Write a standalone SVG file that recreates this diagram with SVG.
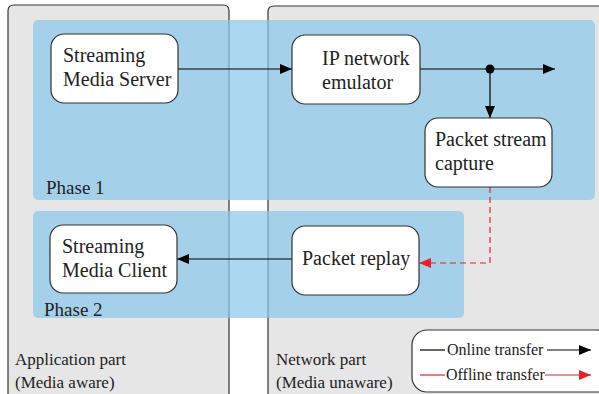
<svg xmlns="http://www.w3.org/2000/svg" width="599" height="394" viewBox="0 0 599 394">
<defs>
<marker id="ab" viewBox="0 0 12 10" refX="12" refY="5" markerWidth="12" markerHeight="10" markerUnits="userSpaceOnUse" orient="auto"><path d="M0,0 L12,5 L0,10 Z" fill="#000"/></marker>
<marker id="ar" viewBox="0 0 12 10" refX="12" refY="5" markerWidth="12" markerHeight="10" markerUnits="userSpaceOnUse" orient="auto"><path d="M0,0 L12,5 L0,10 Z" fill="#e8202a"/></marker>
</defs>
<style>
.panel{fill:#e6e6e6;stroke:#333;stroke-width:1.2}
.phase{fill:rgb(140,199,236);fill-opacity:0.72}
.node{fill:#fff;stroke:#333;stroke-width:1.2}
.nt{font-size:20px}
.ph{font-size:19px}
.pt{font-size:17px}
.lg{font-size:16px}
.bl{stroke:#000;stroke-width:1.2;fill:none}
.rd{stroke:#e8202a;stroke-width:1.2;fill:none}
</style>
<rect width="599" height="394" fill="#fff"/>
<g font-family="'Liberation Serif', Tinos, 'Times New Roman', 'DejaVu Serif', serif" fill="#222">
<g id="application-part">
<path class="panel" d="M8,400 V11 Q8,5 14,5 H223 Q229,5 229,11 V400 Z"/>
<text class="pt" x="15" y="365">Application part</text>
<text class="pt" x="15" y="388">(Media aware)</text>
</g>
<g id="network-part">
<path class="panel" d="M268,400 V12 Q268,6 274,6 H610 V400 Z"/>
<text class="pt" x="276" y="365">Network part</text>
<text class="pt" x="276" y="388">(Media unaware)</text>
</g>
<g id="phase-1">
<rect class="phase" x="33" y="20" width="562" height="180" rx="5"/>
<text class="ph" x="46" y="194">Phase 1</text>
</g>
<g id="phase-2">
<rect class="phase" x="33" y="211" width="431" height="107" rx="5"/>
<text class="ph" x="44" y="316">Phase 2</text>
</g>
<g id="connectors">
<line class="bl" x1="178" y1="69" x2="292" y2="69" marker-end="url(#ab)"/>
<line class="bl" x1="420" y1="69" x2="555" y2="69" marker-end="url(#ab)"/>
<circle cx="490" cy="69" r="4.5" fill="#000"/>
<line class="bl" x1="490" y1="69" x2="490" y2="118" marker-end="url(#ab)"/>
<path class="rd" d="M490,187 V263 H419" stroke-dasharray="6 4" marker-end="url(#ar)"/>
<line class="bl" x1="292" y1="259" x2="177" y2="259" marker-end="url(#ab)"/>
</g>
<g id="streaming-media-server">
<rect class="node" x="51" y="34" width="127" height="69" rx="13"/>
<text class="nt" x="63" y="62">Streaming</text>
<text class="nt" x="63" y="86">Media Server</text>
</g>
<g id="ip-network-emulator">
<rect class="node" x="292" y="35" width="128" height="69" rx="13"/>
<text class="nt" x="322" y="65">IP network</text>
<text class="nt" x="322" y="89">emulator</text>
</g>
<g id="packet-stream-capture">
<rect class="node" x="425" y="118" width="127" height="69" rx="13"/>
<text class="nt" x="435" y="146">Packet stream</text>
<text class="nt" x="435" y="170">capture</text>
</g>
<g id="streaming-media-client">
<rect class="node" x="50" y="225" width="127" height="68" rx="13"/>
<text class="nt" x="62" y="253">Streaming</text>
<text class="nt" x="62" y="277">Media Client</text>
</g>
<g id="packet-replay">
<rect class="node" x="292" y="226" width="127" height="69" rx="13"/>
<text class="nt" x="302" y="265">Packet replay</text>
</g>
<g id="legend">
<rect class="node" x="412" y="330" width="200" height="62" rx="15"/>
<line class="bl" x1="420" y1="350" x2="445" y2="350"/>
<text class="lg" x="447" y="355">Online transfer</text>
<line class="bl" x1="547" y1="350" x2="591" y2="350" marker-end="url(#ab)"/>
<line class="rd" x1="420" y1="375" x2="445" y2="375"/>
<text class="lg" x="446" y="380">Offline transfer</text>
<line class="rd" x1="545" y1="375" x2="591" y2="375" marker-end="url(#ar)"/>
</g>
</g>
</svg>
